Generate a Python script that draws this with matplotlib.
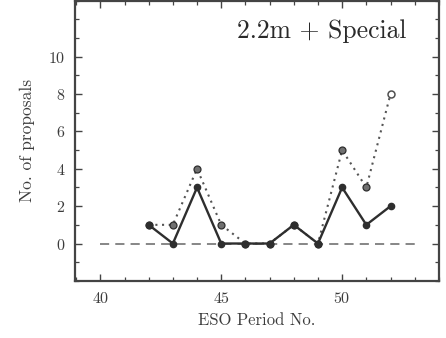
import matplotlib
matplotlib.use("Agg")
import matplotlib.pyplot as plt
from matplotlib.ticker import MultipleLocator

plt.rcParams["font.family"] = ["cmr10", "DejaVu Serif"]
plt.rcParams["axes.formatter.use_mathtext"] = True
plt.rcParams["mathtext.fontset"] = "cm"

periods = [42, 43, 44, 45, 46, 47, 48, 49, 50, 51, 52]
accepted = [1, 0, 3, 0, 0, 0, 1, 0, 3, 1, 2]
submitted = [1, 1, 4, 1, 0, 0, 1, 0, 5, 3, 8]
zero_line_x = [40, 53]
zero_line_y = [0, 0]

ink = "#2e2e2e"
text_col = "#3c3c3c"

fig = plt.figure(figsize=(4.46, 3.38), dpi=100)
ax = fig.add_axes([0.168, 0.169, 0.816, 0.829])

ax.plot(zero_line_x, zero_line_y, ls=(0, (6, 4)), color="#666666", lw=1.1, zorder=1)
ax.plot(periods, submitted, ls=(0, (1, 2.2)), color="#555555", lw=1.5, zorder=2)
ax.plot(periods[:-1], submitted[:-1], ls="none", marker="o", ms=5,
        mfc="#707070", mec=ink, mew=0.9, zorder=3)
ax.plot(periods[-1:], submitted[-1:], ls="none", marker="o", ms=5,
        mfc="white", mec="#505050", mew=1.1, zorder=3)
ax.plot(periods, accepted, ls="-", color=ink, lw=1.7, marker="o", ms=4.5,
        mfc=ink, mec=ink, zorder=4)

ax.set_xlim(38.95, 54.0)
ax.set_ylim(-2, 13)
ax.xaxis.set_major_locator(MultipleLocator(5))
ax.xaxis.set_minor_locator(MultipleLocator(1))
ax.yaxis.set_major_locator(MultipleLocator(2))
ax.yaxis.set_minor_locator(MultipleLocator(1))
ax.set_yticks([0, 2, 4, 6, 8, 10])
ax.tick_params(which="both", direction="in", top=True, right=True,
               colors="#444444", labelcolor=text_col, labelsize=11.5)
ax.tick_params(which="major", length=5, width=1.0)
ax.tick_params(which="minor", length=3, width=0.9)
ax.tick_params(axis="x", pad=7)
ax.tick_params(axis="y", pad=7)
for s in ax.spines.values():
    s.set_color("#444444")
    s.set_linewidth(1.6)

ax.set_xlabel("ESO Period No.", color=text_col, fontsize=12, labelpad=5)
ax.set_ylabel("No. of proposals", color=text_col, fontsize=12.5, labelpad=9)
ax.text(0.91, 0.893, "2.2m + Special", transform=ax.transAxes, ha="right",
        va="center", fontsize=18.5, color="#2a2a2a")

fig.savefig("out.png", dpi=100)
